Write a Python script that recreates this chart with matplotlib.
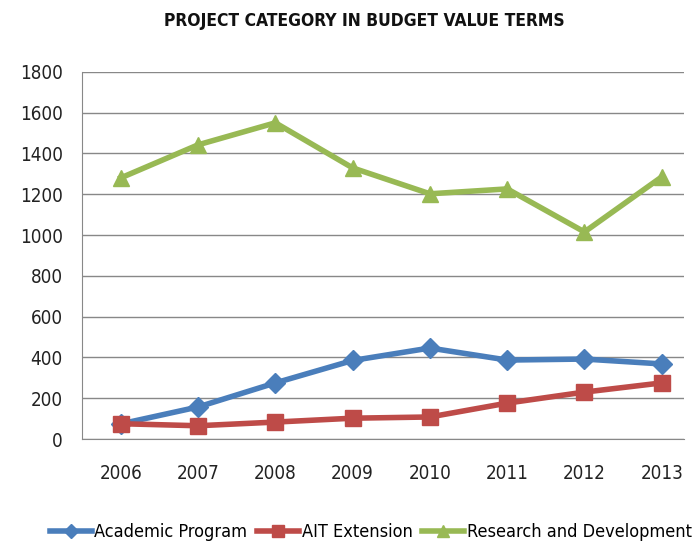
import matplotlib.pyplot as plt
import numpy as np

years = ["2006", "2007", "2008", "2009", "2010", "2011", "2012", "2013"]
academic = [74, 157, 275, 385, 446, 387, 392, 368]
ait_ext = [75, 65, 83, 102, 108, 176, 230, 275]
research = [1280, 1442, 1550, 1329, 1202, 1226, 1015, 1285]

plt.rcParams['font.family'] = ['DejaVu Sans']
plt.rcParams['font.stretch'] = 'condensed'

fig = plt.figure(figsize=(6.96, 5.44), dpi=100)
ax = fig.add_axes([0.118, 0.193, 0.865, 0.675])

x = np.arange(len(years))
ax.plot(x, academic, color="#4A7EBB", linewidth=4, marker="D", markersize=10, label="Academic Program")
ax.plot(x, ait_ext, color="#BE4B48", linewidth=4, marker="s", markersize=12, label="AIT Extension")
ax.plot(x, research, color="#98B954", linewidth=4, marker="^", markersize=12, label="Research and Development")

ax.set_xlim(-0.5, 7.29)
ax.set_ylim(0, 1800)
ax.set_yticks(range(0, 1801, 200))
ax.set_xticks(x)
ax.set_xticklabels(years)
ax.tick_params(length=0, labelsize=13.5, colors="#222222")
ax.tick_params(axis="x", pad=18)
ax.tick_params(axis="y", pad=14)
ax.grid(axis="y", color="#888888", linewidth=1)
ax.set_axisbelow(True)
for s in ["top", "right"]:
    ax.spines[s].set_visible(False)
ax.spines["left"].set_color("#888888")
ax.spines["bottom"].set_color("#888888")

fig.text(0.524, 0.962, "PROJECT CATEGORY IN BUDGET VALUE TERMS", ha="center", va="center",
         fontsize=12.5, fontweight="bold", color="#111111")

fig.legend(loc="center", bbox_to_anchor=(0.533, 0.022), ncol=3, frameon=False, fontsize=13,
           handlelength=2.3, handletextpad=0.15, columnspacing=0.55, markerscale=0.7)

fig.savefig("out.png", dpi=100)
